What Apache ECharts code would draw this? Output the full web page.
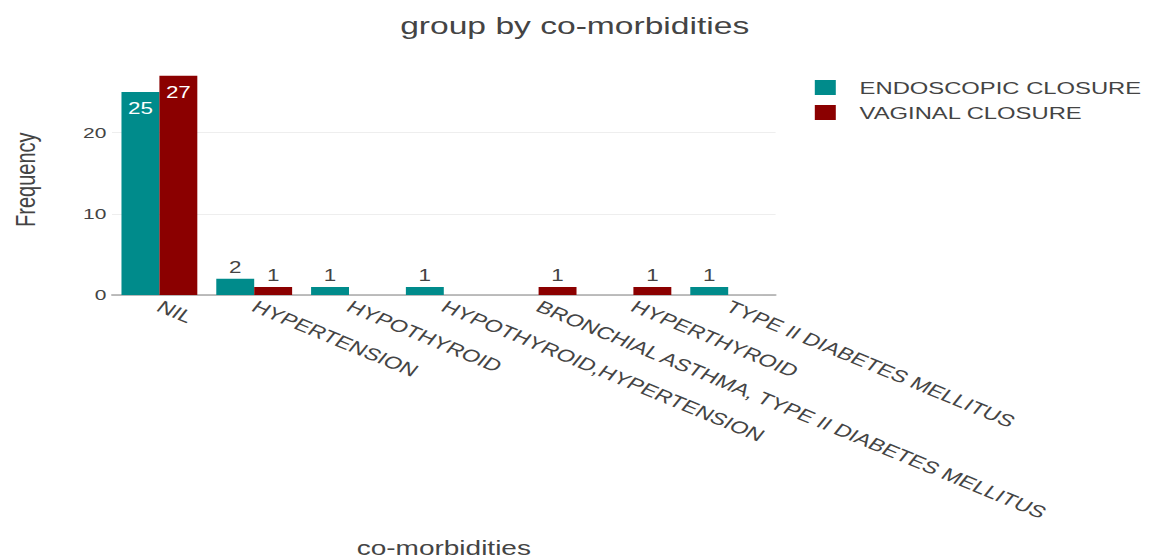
<!DOCTYPE html>
<html>
<head>
<meta charset="utf-8">
<script src="https://cdn.jsdelivr.net/npm/echarts@6/dist/echarts.min.js"></script>
<style>
    html, body { margin: 0; padding: 0; background: #fff; overflow: hidden; }
    /* the reference picture is stretched sideways, so the chart is drawn narrow and widened */
    #barChart { width: 821px; height: 559px; transform: scaleX(1.4); transform-origin: 0 0; }
</style>
</head>
<body>
<div id="barChart"></div>
<script>
var categories = ['NIL', 'HYPERTENSION', 'HYPOTHYROID', 'HYPOTHYROID,HYPERTENSION',
    'BRONCHIAL ASTHMA, TYPE II DIABETES MELLITUS', 'HYPERTHYROID', 'TYPE II DIABETES MELLITUS'];
var endoscopic = [25, 2, 1, 1, 0, 0, 1];
var vaginal = [27, 1, 0, 0, 1, 1, 0];
var seriesNames = ['ENDOSCOPIC CLOSURE', 'VAGINAL CLOSURE'];
var yTicks = [0, 10, 20];

(function () {
    var dom = document.getElementById("barChart");
    var myChart = echarts.init(dom, null, { renderer: 'svg' });
    var font = 'Liberation Sans, Arial, sans-serif';

    // big bars get the number inside, small ones above
    function toItems(values) {
        return values.map(function (v) {
            if (!v) {
                return { value: v, label: { show: false } };
            }
            var inside = v >= 5;
            return {
                value: v,
                label: {
                    position: inside ? 'insideTop' : 'top',
                    color: inside ? '#fff' : '#444',
                    distance: inside ? 8 : 4
                }
            };
        });
    }

    var barLabel = { show: true, fontSize: 16, fontFamily: font };

    var option = {
        animation: false,
        title: {
            text: 'group by co-morbidities',
            left: 'center',
            top: 9,
            textStyle: { color: '#444', fontSize: 24, fontWeight: 'normal', fontFamily: font }
        },
        legend: {
            orient: 'vertical',
            left: 577,
            top: 74,
            itemWidth: 15,
            itemHeight: 15,
            itemGap: 8,
            icon: 'rect',
            textStyle: { color: '#444', fontSize: 17, fontFamily: font, padding: [0, 0, 0, 12] }
        },
        grid: {
            left: 78.6,
            right: 267,
            top: 64.4,
            bottom: 264
        },
        xAxis: {
            type: 'category',
            data: categories,
            name: 'co-morbidities',
            nameLocation: 'middle',
            nameGap: 243,
            nameTextStyle: { color: '#444', fontSize: 20, fontFamily: font },
            axisLine: { lineStyle: { color: '#a8a8a8', width: 1.5 } },
            axisTick: { show: false },
            axisLabel: {
                interval: 0,
                rotate: -30,
                margin: 10,
                color: '#444',
                fontSize: 17,
                fontFamily: font
            }
        },
        yAxis: {
            type: 'value',
            min: yTicks[0],
            max: 28.4,
            interval: yTicks[1] - yTicks[0],
            name: 'Frequency',
            nameLocation: 'middle',
            nameGap: 52,
            nameTextStyle: { color: '#444', fontSize: 20, fontFamily: font },
            axisLine: { show: false },
            axisTick: { show: false },
            axisLabel: {
                margin: 4,
                showMaxLabel: false,
                color: '#444',
                fontSize: 15,
                fontFamily: font
            },
            splitLine: {
                showMaxLine: false,
                lineStyle: { color: '#eeeeee', width: 1 }
            }
        },
        series: [
            {
                name: seriesNames[0],
                type: 'bar',
                data: toItems(endoscopic),
                barGap: '0%',
                barCategoryGap: '20%',
                itemStyle: { color: '#008B8B' },
                label: barLabel
            },
            {
                name: seriesNames[1],
                type: 'bar',
                data: toItems(vaginal),
                barGap: '0%',
                barCategoryGap: '20%',
                itemStyle: { color: '#8B0000' },
                label: barLabel
            }
        ]
    };

    if (option && typeof option === 'object') {
        myChart.setOption(option);
    }

    window.addEventListener("resize", function () {
        myChart.resize();
    });
})();
</script>
</body>
</html>
